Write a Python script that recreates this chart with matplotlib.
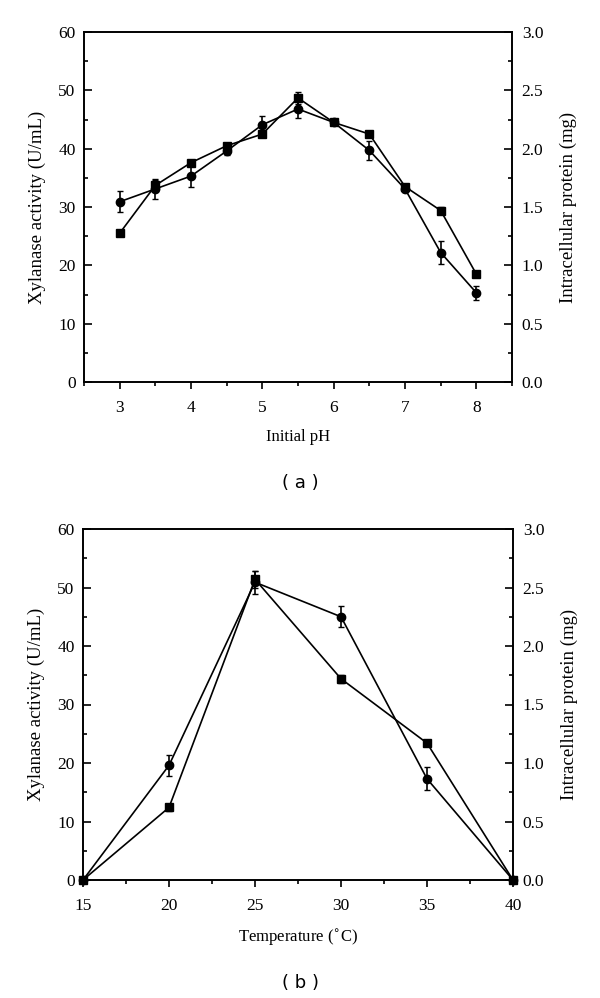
import numpy as np
import matplotlib
matplotlib.use('Agg')
import matplotlib.pyplot as plt
from matplotlib.ticker import MultipleLocator

plt.rcParams['font.family'] = ['Liberation Serif', 'DejaVu Serif']

# (a) initial pH
ph = [3, 3.5, 4, 4.5, 5, 5.5, 6, 6.5, 7, 7.5, 8]
ph_xyl = [25.5, 33.7, 37.6, 40.5, 42.5, 48.7, 44.5, 42.5, 33.5, 29.4, 18.5]
ph_xyl_err = [0.5, 0.9, 0.5, 0.5, 0.3, 1.0, 0.3, 0.3, 0.5, 0.6, 0.5]
ph_prot = [1.545, 1.655, 1.765, 1.98, 2.205, 2.34, 2.225, 1.985, 1.655, 1.11, 0.765]
ph_prot_err = [0.09, 0.085, 0.095, 0.035, 0.075, 0.08, 0.025, 0.08, 0.03, 0.1, 0.06]

# (b) temperature
temp = [15, 20, 25, 30, 35, 40]
t_xyl = [0, 12.4, 51.4, 34.4, 23.4, 0]
t_xyl_err = [0, 0.6, 1.5, 0.7, 0.3, 0]
t_prot = [0, 0.98, 2.545, 2.25, 0.865, 0]
t_prot_err = [0, 0.09, 0.1, 0.09, 0.1, 0]


def panel(ax, x, xyl, xyl_err, prot, prot_err, xlim, xmajor, xminor, xlabel):
    ax2 = ax.twinx()
    ax.errorbar(x, xyl, yerr=xyl_err, color='black', marker='s', markersize=5.5,
                linewidth=1.2, capsize=2.5, elinewidth=1.2, clip_on=False, zorder=3)
    ax2.errorbar(x, prot, yerr=prot_err, color='black', marker='o', markersize=6,
                 linewidth=1.2, capsize=2.5, elinewidth=1.2, clip_on=False, zorder=3)
    ax.set_xlim(*xlim)
    ax.set_ylim(0, 60)
    ax2.set_ylim(0, 3.0)
    ax.xaxis.set_major_locator(MultipleLocator(xmajor))
    ax.xaxis.set_minor_locator(MultipleLocator(xminor))
    ax.yaxis.set_major_locator(MultipleLocator(10))
    ax.yaxis.set_minor_locator(MultipleLocator(5))
    ax2.yaxis.set_major_locator(MultipleLocator(0.5))
    ax2.yaxis.set_minor_locator(MultipleLocator(0.25))
    ax2.yaxis.set_major_formatter(plt.FormatStrFormatter('%.1f'))
    ax.tick_params(axis='x', which='both', direction='out', top=False, labelsize=12.5, pad=8)
    ax.tick_params(axis='x', which='major', length=5, width=1.2)
    ax.tick_params(axis='x', which='minor', length=3, width=1.2)
    ax.tick_params(axis='y', which='both', direction='in', labelsize=12.5, width=1.2, pad=6)
    ax.tick_params(axis='y', which='major', length=6)
    ax.tick_params(axis='y', which='minor', length=3)
    ax2.tick_params(axis='y', which='both', direction='in', labelsize=12.5, width=1.2, pad=7)
    ax2.tick_params(axis='y', which='major', length=6)
    ax2.tick_params(axis='y', which='minor', length=3)
    for s in ax.spines.values():
        s.set_linewidth(1.2)
    for s in ax2.spines.values():
        s.set_linewidth(1.2)
    ax.set_xlabel(xlabel, fontsize=12, labelpad=9)
    ax.set_ylabel('Xylanase activity (U/mL)', fontsize=13.5, labelpad=9)
    ax2.set_ylabel('Intracellular protein (mg)', fontsize=13.5, labelpad=12)


fig = plt.figure(figsize=(6, 9.98), dpi=100)
ax_a = fig.add_axes([84 / 600, 1 - 382 / 998, 428 / 600, 350 / 998])
ax_b = fig.add_axes([83 / 600, 1 - 880 / 998, 430 / 600, 351 / 998])

panel(ax_a, ph, ph_xyl, ph_xyl_err, ph_prot, ph_prot_err, (2.5, 8.5), 1, 0.5, 'Initial pH')
panel(ax_b, temp, t_xyl, t_xyl_err, t_prot, t_prot_err, (15, 40), 5, 2.5,
      'Temperature ($^{\\circ}$C)')

fig.text(0.5, 1 - 483 / 998, '( a )', ha='center', va='center', fontsize=13,
         family=['DejaVu Sans'])
fig.text(0.5, 1 - 983 / 998, '( b )', ha='center', va='center', fontsize=13,
         family=['DejaVu Sans'])

fig.savefig('out.png', dpi=100)
